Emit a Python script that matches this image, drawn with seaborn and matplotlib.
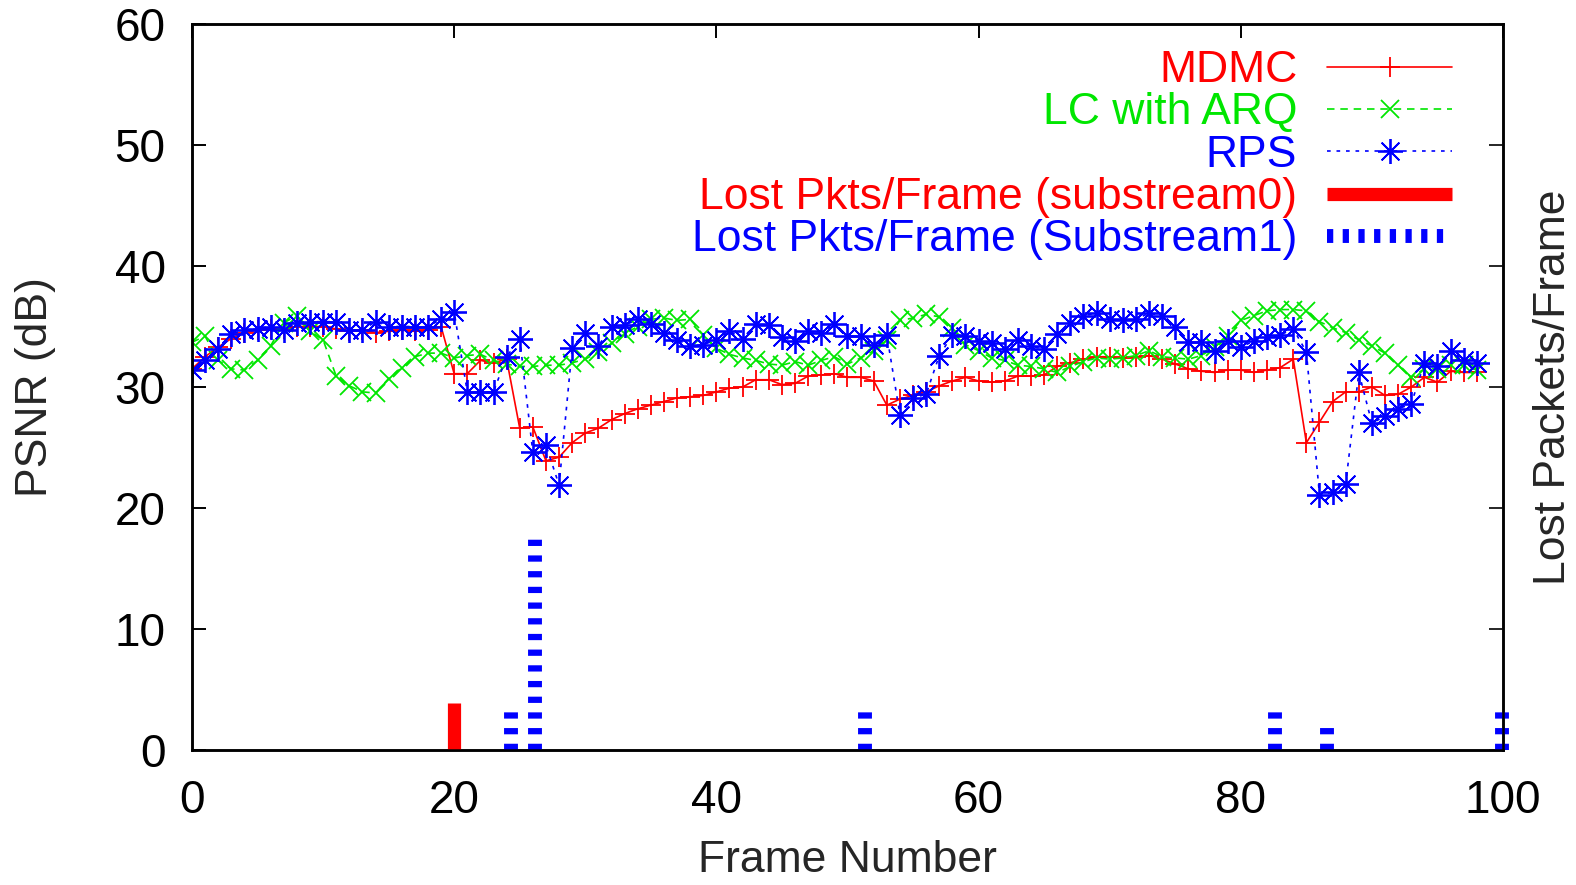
import numpy as np
import pandas as pd
import matplotlib
matplotlib.use("Agg")
import matplotlib.pyplot as plt
from matplotlib.lines import Line2D
import seaborn as sns

frames = list(range(0, 99))

mdmc = [31.5, 32.5, 33.3, 34.0, 34.5, 34.7, 34.8, 34.8, 35.0, 35.0,
        35.0, 34.8, 34.6, 34.7, 34.5, 34.6, 34.7, 34.6, 34.7, 35.0,
        31.1, 31.1, 32.2, 32.0, 32.3, 26.6, 26.7, 23.9, 24.2, 25.4,
        26.2, 26.6, 27.3, 27.8, 28.2, 28.5, 28.8, 29.1, 29.2, 29.3,
        29.6, 29.9, 30.0, 30.6, 30.6, 30.2, 30.3, 30.9, 31.0, 31.1,
        30.8, 30.8, 30.5, 28.5, 29.0, 29.3, 29.6, 30.1, 30.5, 30.8,
        30.5, 30.4, 30.5, 30.9, 30.9, 31.0, 31.7, 32.0, 32.3, 32.5,
        32.5, 32.4, 32.5, 32.6, 32.3, 31.9, 31.5, 31.3, 31.2, 31.4,
        31.4, 31.2, 31.4, 31.6, 32.3, 25.4, 27.1, 28.8, 29.6, 29.6,
        30.0, 29.3, 29.4, 30.0, 30.8, 30.4, 31.3, 31.2, 31.2]

lc_arq = [33.7, 34.2, 32.2, 31.5, 31.4, 32.2, 33.4, 35.3, 35.9, 34.6,
          33.9, 30.9, 30.1, 29.6, 29.5, 30.7, 31.6, 32.5, 32.8, 32.8,
          32.4, 32.6, 32.7, 32.2, 31.9, 31.7, 31.7, 31.8, 31.8, 32.0,
          32.3, 32.9, 33.6, 34.4, 35.0, 35.6, 35.7, 35.5, 35.6, 34.3,
          33.2, 32.7, 32.4, 32.2, 31.9, 31.8, 32.1, 31.8, 32.2, 32.5,
          31.9, 32.4, 33.0, 33.9, 35.5, 35.7, 36.0, 35.8, 34.9, 33.5,
          33.0, 32.4, 32.2, 31.8, 31.7, 31.5, 31.2, 31.7, 32.1, 32.4,
          32.3, 32.4, 32.6, 33.0, 32.5, 32.4, 32.3, 32.6, 33.3, 34.2,
          35.5, 35.9, 36.3, 36.4, 36.4, 36.3, 35.4, 34.9, 34.5, 33.9,
          33.4, 32.8, 31.8, 30.8, 31.5, 31.5, 31.8, 31.8, 31.4]

rps = [31.4, 32.2, 33.1, 34.4, 34.7, 34.8, 35.0, 34.7, 35.3, 35.4,
       35.4, 35.4, 34.7, 34.7, 35.4, 35.0, 35.0, 35.0, 35.0, 35.6,
       36.2, 29.6, 29.6, 29.6, 32.5, 34.0, 24.6, 25.2, 21.9, 33.2,
       34.5, 33.4, 35.0, 35.1, 35.6, 35.2, 34.5, 33.9, 33.4, 33.5,
       33.9, 34.6, 34.0, 35.2, 35.1, 34.1, 33.8, 34.6, 34.5, 35.2,
       34.2, 34.2, 33.5, 34.3, 27.7, 29.1, 29.4, 32.6, 34.3, 34.2,
       33.8, 33.6, 33.1, 33.9, 33.4, 33.1, 34.4, 35.3, 35.9, 36.1,
       35.6, 35.5, 35.6, 36.1, 35.9, 35.0, 33.7, 33.7, 33.0, 33.8,
       33.3, 33.8, 34.1, 34.3, 34.8, 32.9, 21.1, 21.3, 22.0, 31.2,
       27.0, 27.6, 28.2, 28.6, 32.0, 31.7, 33.0, 32.2, 32.0]

lost0_x = [20.0]
lost0_y = [3.9]
lost1_x = [24.3, 26.2, 51.3, 82.6, 86.6, 99.9]
lost1_y = [3.9, 17.4, 3.9, 3.9, 2.0, 3.9]

x_ticks = [0, 20, 40, 60, 80, 100]
y_ticks = [0, 10, 20, 30, 40, 50, 60]
labels = ["MDMC", "LC with ARQ", "RPS",
          "Lost Pkts/Frame (substream0)", "Lost Pkts/Frame (Substream1)"]

RED = "#ff0000"
GREEN = "#00e600"
BLUE = "#0000ff"
FS = 32

sns.set_theme(style="white")
plt.rcParams["font.family"] = ["Liberation Sans", "DejaVu Sans"]
plt.rcParams["axes.linewidth"] = 1.8

fig = plt.figure(figsize=(15.76, 8.85), dpi=100)
ax = fig.add_axes([0.1218, 0.1525, 0.8319, 0.8204])

star = (8, 2, 0)
styles = [
    dict(color=RED, linestyle="-", marker="+", markersize=15),
    dict(color=GREEN, linestyle=(0, (4.5, 3.5)), marker="x", markersize=13),
    dict(color=BLUE, linestyle=(0, (2.2, 3.5)), marker=star, markersize=18),
]
for yv, st in zip([mdmc, lc_arq, rps], styles):
    sns.lineplot(x=frames, y=yv, ax=ax, color=st["color"], linewidth=1.2,
                 linestyle=st["linestyle"], marker=st["marker"],
                 markersize=st["markersize"], markeredgewidth=1.3,
                 markeredgecolor=st["color"], markerfacecolor=st["color"],
                 legend=False)

ax2 = ax.twinx()
ax2.vlines(lost0_x, 0, lost0_y, colors=RED, linewidth=9.5,
           capstyle="butt", clip_on=False)
ax2.vlines(lost1_x, 0, lost1_y, colors=BLUE, linewidth=10,
           linestyles=[(0, (0.45, 0.68))], capstyle="butt", clip_on=False)

for a in (ax, ax2):
    a.set_xlim(0, 100)
    a.set_ylim(0, 60)
ax.set_xticks(x_ticks)
ax.set_yticks(y_ticks)
ax2.set_yticks(y_ticks)
ax2.set_yticklabels([])
ax.tick_params(axis="both", direction="in", length=10, width=1.4,
               labelsize=FS + 1, top=True, right=False, colors="black")
ax.tick_params(axis="y", pad=19)
ax.tick_params(axis="x", pad=21)
ax2.tick_params(axis="y", direction="in", length=10, width=1.4, right=True)
for sp in list(ax.spines.values()) + list(ax2.spines.values()):
    sp.set_color("black")
    sp.set_linewidth(1.8)

ax.set_xlabel("Frame Number", fontsize=FS, labelpad=12)
ax.set_ylabel("PSNR (dB)", fontsize=FS, labelpad=42)
ax2.set_ylabel("Lost Packets/Frame", fontsize=FS, labelpad=18)

handles = [
    Line2D([], [], color=RED, linewidth=1.2, marker="+", markersize=15,
           markeredgewidth=1.3),
    Line2D([], [], color=GREEN, linewidth=1.2, linestyle=(0, (4.5, 3.5)),
           marker="x", markersize=13, markeredgewidth=1.3),
    Line2D([], [], color=BLUE, linewidth=1.2, linestyle=(0, (2.2, 3.5)),
           marker=star, markersize=18, markeredgewidth=1.3),
    Line2D([], [], color=RED, linewidth=9.5, solid_capstyle="butt"),
    Line2D([], [], color=BLUE, linewidth=10, linestyle=(0, (0.45, 0.68)),
           dash_capstyle="butt"),
]
leg = ax2.legend(handles, labels, loc="upper right",
                 bbox_to_anchor=(0.961, 0.964), frameon=False,
                 markerfirst=False, fontsize=FS, handlelength=2.8,
                 handletextpad=0.68, labelspacing=0.03, borderpad=0,
                 borderaxespad=0, numpoints=1,
                 labelcolor=[RED, GREEN, BLUE, RED, BLUE])

fig.savefig("out.png", dpi=100)
